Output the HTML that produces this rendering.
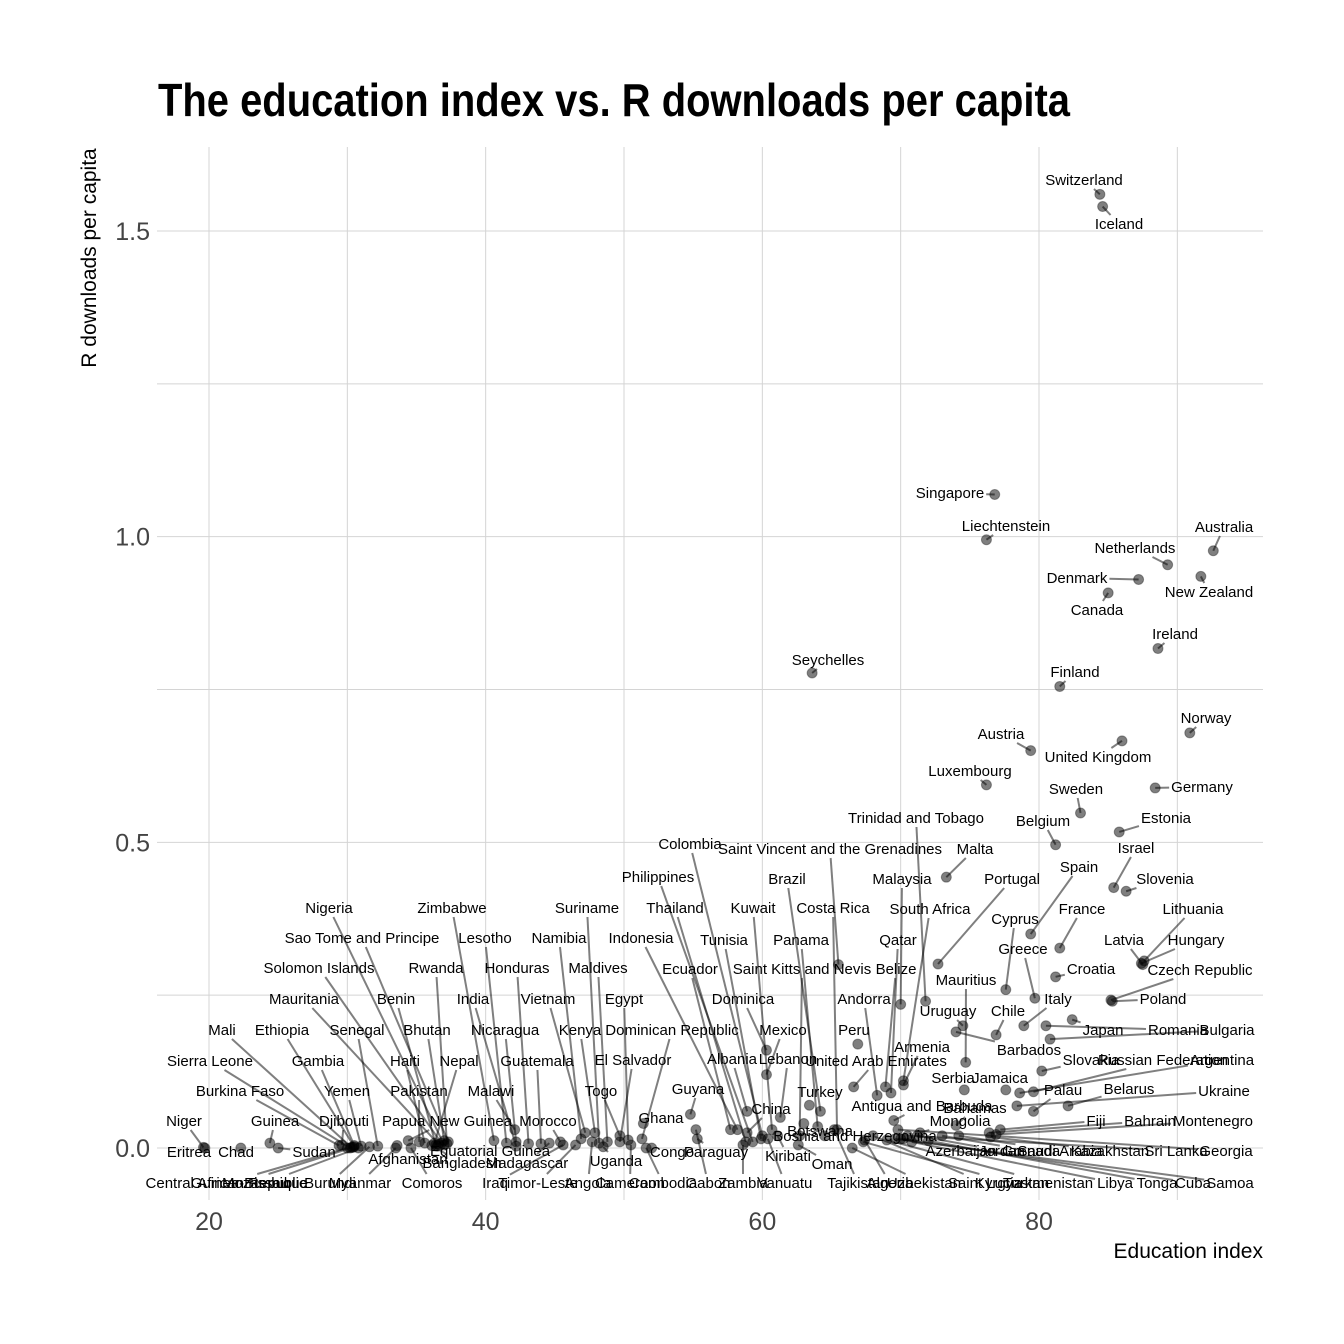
<!DOCTYPE html>
<html><head><meta charset="utf-8">
<style>
html,body{margin:0;padding:0;background:#fff;}
svg{display:block;}
.t{font-family:"Liberation Sans",sans-serif;font-size:15px;fill:#000;}
</style></head>
<body>
<svg id="chart" width="1344" height="1344" viewBox="0 0 1344 1344" xmlns="http://www.w3.org/2000/svg">
<rect width="1344" height="1344" fill="#fff"/>
<text x="158" y="116" font-family="'Liberation Sans Narrow','Liberation Sans',sans-serif" font-weight="bold" font-size="46" textLength="912" lengthAdjust="spacingAndGlyphs">The education index vs. R downloads per capita</text>
<g id="grid"></g>
<g id="axes"></g>
<g id="lines"></g>
<g id="points"></g>
<g id="labels"></g>
<text transform="translate(96,258) rotate(-90)" text-anchor="middle" font-family="'Liberation Sans Narrow','Liberation Sans',sans-serif" font-size="21" fill="#000">R downloads per capita</text>
<text x="1263" y="1258" text-anchor="end" font-family="'Liberation Sans Narrow','Liberation Sans',sans-serif" font-size="21" fill="#000">Education index</text>
</svg>
<script>
const countries = ["Switzerland","Iceland","Singapore","Liechtenstein","Australia","Netherlands","New Zealand","Denmark","Canada","Ireland",
"Seychelles","Finland","Norway","Austria","United Kingdom","Luxembourg","Germany","Sweden","Belgium","Estonia",
"Israel","Slovenia","Malta","Portugal","Spain","Cyprus","France","Lithuania","Latvia","Hungary",
"Greece","Croatia","Czech Republic","Poland","Italy","Japan","Romania","Bulgaria","Mauritius","Chile",
"Uruguay","Barbados","Slovakia","Russian Federation","Argentina","Serbia","Jamaica","Palau","Belarus","Ukraine",
"Bahamas","Fiji","Bahrain","Montenegro","Mongolia","Antigua and Barbuda","Azerbaijan","Jordan","Grenada","Saudi Arabia",
"Kazakhstan","Sri Lanka","Georgia","Saint Lucia","Kyrgyzstan","Turkmenistan","Libya","Tonga","Cuba","Samoa",
"Tajikistan","Algeria","Uzbekistan","Trinidad and Tobago","Malaysia","Saint Vincent and the Grenadines","South Africa","Qatar","Belize","Andorra",
"Peru","United Arab Emirates","Armenia","Costa Rica","Brazil","Panama","Turkey","Botswana","Bosnia and Herzegovina","Oman",
"Saint Kitts and Nevis","Mexico","Lebanon","Kuwait","Dominica","Tunisia","Colombia","Philippines","Thailand","China",
"Albania","Zambia","Vanuatu","Kiribati","Ecuador","Indonesia","Paraguay","Gabon","Guyana","Ghana",
"Congo","Cambodia","Cameroon","Dominican Republic","Egypt","El Salvador","Togo","Maldives","Suriname","Angola",
"Uganda","Kenya","Timor-Leste","Namibia","Vietnam","Iraq","Madagascar","Morocco","Guatemala","Malawi",
"Honduras","Nicaragua","Lesotho","Zimbabwe","India","Rwanda","Nigeria","Sao Tome and Principe","Solomon Islands","Mauritania",
"Benin","Bhutan","Nepal","Equatorial Guinea","Bangladesh","Papua New Guinea","Pakistan","Haiti","Afghanistan","Comoros",
"Myanmar","Senegal","Burundi","Yemen","Gambia","Mozambique","Ethiopia","Guinea-Bissau","Djibouti","Sierra Leone",
"Mali","Central African Republic","Burkina Faso","Sudan","Guinea","Chad","Eritrea","Niger"];

const education = [84.4,84.6,76.8,76.2,92.6,89.3,91.7,87.2,85.0,88.6,
63.6,81.5,90.9,79.4,86.0,76.2,88.4,83.0,81.2,85.8,
85.4,86.3,73.3,72.7,79.4,77.6,81.5,87.6,87.5,87.4,
79.7,81.2,85.2,85.3,78.9,82.4,80.5,80.8,74.7,76.9,
74.5,74.0,80.2,79.6,78.6,74.6,77.6,79.6,82.1,78.4,
74.0,77.2,76.4,76.9,71.4,69.5,70.0,71.2,73.0,74.2,
76.5,70.5,69.8,68.0,67.3,69.0,70.8,72.0,70.2,69.6,
65.2,67.4,66.5,71.8,70.0,65.5,70.2,69.3,68.9,68.3,
66.9,66.6,70.2,65.4,64.2,64.0,63.4,63.0,64.5,62.6,
62.7,60.3,61.3,60.7,60.3,59.9,60.0,59.3,58.8,58.9,
58.9,58.6,60.4,61.1,57.7,58.2,55.3,55.2,54.8,51.4,
52.0,51.6,50.5,51.3,50.3,49.7,49.7,48.8,48.2,47.7,
48.5,47.9,46.5,46.9,47.2,45.6,44.6,45.4,44.0,42.1,
43.1,42.2,41.5,40.6,42.2,37.2,37.0,37.3,36.8,36.6,
36.4,37.0,36.3,36.5,36.1,34.4,35.2,35.6,33.6,34.6,
33.5,32.2,31.6,31.0,30.5,30.8,30.5,30.4,29.6,30.2,
30.3,30.0,29.4,25.0,24.4,22.3,19.7,19.6];

const downloads = [1.56,1.54,1.069,0.995,0.977,0.954,0.935,0.93,0.908,0.817,
0.777,0.755,0.679,0.65,0.666,0.594,0.589,0.548,0.496,0.517,
0.426,0.42,0.443,0.301,0.35,0.259,0.327,0.306,0.30,0.302,
0.245,0.28,0.242,0.24,0.20,0.21,0.20,0.178,0.14,0.185,
0.20,0.19,0.126,0.092,0.09,0.095,0.095,0.06,0.069,0.069,
0.037,0.03,0.025,0.022,0.025,0.045,0.015,0.02,0.02,0.02,
0.018,0.02,0.03,0.02,0.01,0.013,0.01,0.012,0.015,0.015,
0.03,0.013,0.0,0.24,0.235,0.30,0.11,0.09,0.10,0.086,
0.17,0.10,0.103,0.03,0.06,0.035,0.07,0.04,0.02,0.005,
0.02,0.12,0.05,0.03,0.16,0.015,0.02,0.01,0.01,0.025,
0.06,0.005,0.015,0.02,0.03,0.03,0.015,0.03,0.055,0.04,
0.0,0.0,0.005,0.015,0.013,0.01,0.02,0.01,0.008,0.01,
0.002,0.025,0.005,0.015,0.025,0.005,0.008,0.01,0.007,0.03,
0.007,0.01,0.008,0.012,0.003,0.007,0.005,0.01,0.008,0.006,
0.005,0.012,0.008,0.003,0.004,0.012,0.01,0.008,0.004,0.0,
0.0,0.003,0.002,0.003,0.004,0.0,0.002,0.001,0.005,0.0,
0.001,0.0,0.004,0.0,0.008,0.0,0.0,0.001];

// label layout (pixel positions of label centers) — layout, not data
const labelLayout = [[1084,180],[1119,224],[950,493],[1006,526],[1224,527],[1135,548],[1209,592],[1077,578],[1097,610],[1175,634],
[828,660],[1075,672],[1206,718],[1001,734],[1098,757],[970,771],[1202,787],[1076,789],[1043,821],[1166,818],
[1136,848],[1165,879],[975,849],[1012,879],[1079,867],[1015,919],[1082,909],[1193,909],[1124,940],[1196,940],
[1023,949],[1091,969],[1200,970],[1163,999],[1058,999],[1103,1030],[1178,1030],[1227,1030],[966,980],[1008,1011],
[948,1011],[1029,1050],[1091,1060],[1163,1060],[1222,1060],[953,1078],[1000,1078],[1063,1090],[1129,1089],[1224,1091],
[975,1108],[1096,1121],[1150,1121],[1213,1121],[960,1121],[922,1106],[961,1151],[1002,1151],[1031,1151],[1060,1151],
[1110,1151],[1176,1151],[1226,1151],[985,1183],[1012,1183],[1048,1183],[1115,1183],[1157,1183],[1193,1183],[1230,1183],
[858,1183],[890,1183],[924,1183],[916,818],[902,879],[830,849],[930,909],[898,940],[896,969],[864,999],
[854,1030],[876,1061],[922,1047],[833,908],[787,879],[801,940],[820,1092],[820,1131],[855,1136],[832,1164],
[802,969],[783,1030],[788,1059],[753,908],[743,999],[724,940],[690,844],[658,877],[675,908],[771,1109],
[732,1059],[743,1183],[785,1183],[788,1156],[690,969],[641,938],[716,1152],[708,1183],[698,1089],[661,1118],
[672,1152],[663,1183],[630,1183],[672,1030],[624,999],[633,1060],[601,1091],[598,968],[587,908],[588,1183],
[616,1161],[580,1030],[538,1183],[559,938],[548,999],[495,1183],[527,1163],[548,1121],[537,1061],[491,1091],
[517,968],[505,1030],[485,938],[452,908],[473,999],[436,968],[329,908],[362,938],[319,968],[304,999],
[396,999],[427,1030],[459,1061],[490,1151],[462,1163],[447,1121],[419,1091],[405,1061],[408,1159],[432,1183],
[360,1183],[357,1030],[330,1183],[347,1091],[318,1061],[265,1183],[282,1030],[240,1183],[344,1121],[210,1061],
[222,1030],[226,1183],[240,1091],[314,1152],[275,1121],[236,1152],[189,1152],[184,1121]];

const xTicks = [20,40,60,80];
const xMinor = [30,50,70,90];
const yTicks = [0.0,0.5,1.0,1.5];
const yMinor = [0.25,0.75,1.25];
const xTickLabels = ["20","40","60","80"];
const yTickLabels = ["0.0","0.5","1.0","1.5"];

const NS = "http://www.w3.org/2000/svg";
const X0 = 157, X1 = 1263, Y0 = 147, Y1 = 1200;
function xScale(v){ return 209 + (v - 20) * (1039 - 209) / 60; }
function yScale(v){ return 1148 - v * (1148 - 231) / 1.5; }

const grid = document.getElementById('grid');
const axes = document.getElementById('axes');
function mk(tag, attrs, parent){ const e = document.createElementNS(NS, tag); for (const k in attrs) e.setAttribute(k, attrs[k]); parent.appendChild(e); return e; }

xTicks.concat(xMinor).forEach(v => {
  const l = mk('line', {x1:xScale(v), x2:xScale(v), y1:Y0, y2:Y1, stroke:'#d4d4d4', 'stroke-width':1}, grid);
  
  
});
yTicks.concat(yMinor).forEach(v => {
  const l = mk('line', {x1:X0, x2:X1, y1:yScale(v), y2:yScale(v), stroke:'#d4d4d4', 'stroke-width':1}, grid);
  
  
});
xTicks.forEach((v, i) => {
  const t = mk('text', {x:xScale(v), y:1230, 'text-anchor':'middle', 'font-family':"'Liberation Sans Narrow','Liberation Sans',sans-serif", 'font-size':25, fill:'#444'}, axes);
  t.textContent = xTickLabels[i];
  
  
});
yTicks.forEach((v, i) => {
  const t = mk('text', {x:150, y:yScale(v) + 9, 'text-anchor':'end', 'font-family':"'Liberation Sans Narrow','Liberation Sans',sans-serif", 'font-size':25, fill:'#444'}, axes);
  t.textContent = yTickLabels[i];
  
  
});

const gL = document.getElementById('lines'), gP = document.getElementById('points'), gT = document.getElementById('labels');
countries.forEach((name, i) => {
  const px = xScale(education[i]), py = yScale(downloads[i]);
  const lx = labelLayout[i][0], ly = labelLayout[i][1];
  const t = mk('text', {x:lx, y:ly + 5, 'text-anchor':'middle', class:'t'}, gT);
  t.textContent = name;
  
  
  const w = t.getComputedTextLength ? t.getComputedTextLength() : name.length * 8;
  const hw = w / 2 + 2, hh = 9;
  const dx = px - lx, dy = py - ly;
  if (Math.abs(dx) > hw || Math.abs(dy) > hh) {
    let s = Math.min(dx !== 0 ? hw / Math.abs(dx) : Infinity, dy !== 0 ? hh / Math.abs(dy) : Infinity);
    s = Math.min(s, 1);
    const sx = lx + dx * s, sy = ly + dy * s;
    const dist = Math.hypot(px - sx, py - sy);
    if (dist > 6) {
      const l = mk('line', {x1:sx, y1:sy, x2:px, y2:py, stroke:'rgba(0,0,0,0.5)', 'stroke-width':2}, gL);
      
      
    }
  }
  const c = mk('circle', {cx:px, cy:py, r:5, fill:'rgba(0,0,0,0.5)', stroke:'rgba(0,0,0,0.35)', 'stroke-width':1}, gP);
  
  
});
</script>
</body></html>
